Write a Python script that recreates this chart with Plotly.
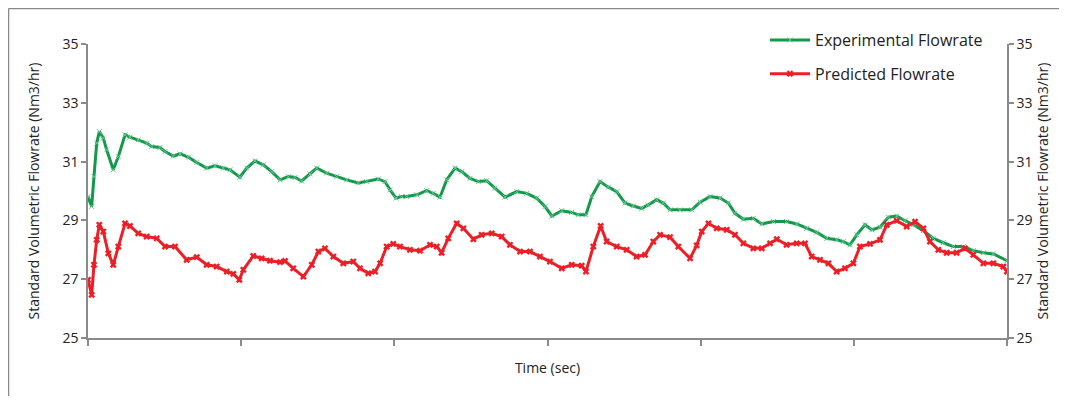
import plotly.graph_objects as go

# Time (sec) (axis has no tick labels, 0..600 span)
exp_time = [0, 2.4, 3.9, 5.7, 7.4, 10.0, 12.2, 16.5, 19.8, 24.2, 27.4, 32.8, 38.3, 41.6, 47.0, 50.3,
            55.7, 60.1, 65.5, 71.0, 77.5, 82.9, 88.3, 92.7, 99.2, 103.6, 109.0, 114.5, 119.9, 125.4,
            130.8, 135.2, 139.5, 145.0, 149.3, 155.8, 162.3, 168.9, 176.5, 182.0, 189.5, 193.9, 197.2,
            201.1, 204.8, 208.1, 214.6, 221.1, 225.4, 229.8, 234.2, 239.6, 244.0, 249.4, 254.8, 260.3,
            265.7, 272.3, 279.9, 286.4, 292.9, 298.4, 302.8, 309.3, 315.8, 320.1, 325.1, 328.9, 334.3,
            339.7, 345.2, 350.6, 356.0, 361.5, 365.8, 371.3, 375.6, 380.0, 386.5, 394.2, 399.6, 406.1,
            412.6, 418.1, 422.4, 427.9, 434.4, 439.9, 447.5, 456.1, 462.7, 469.2, 475.8, 482.3, 488.8,
            493.1, 497.5, 501.9, 507.3, 511.7, 517.1, 522.5, 528.0, 533.4, 538.9, 545.4, 551.9, 558.4,
            565.0, 571.5, 578.0, 584.6, 591.1, 600.0]
exp_flow = [29.81, 29.47, 30.49, 31.63, 32.02, 31.80, 31.40, 30.72, 31.17, 31.91, 31.83, 31.74, 31.63,
            31.51, 31.48, 31.34, 31.19, 31.26, 31.15, 30.97, 30.78, 30.86, 30.78, 30.72, 30.47, 30.78,
            31.02, 30.89, 30.66, 30.38, 30.49, 30.46, 30.34, 30.58, 30.78, 30.61, 30.49, 30.38, 30.27,
            30.32, 30.41, 30.32, 30.04, 29.76, 29.81, 29.81, 29.87, 30.01, 29.92, 29.79, 30.38, 30.78,
            30.66, 30.43, 30.32, 30.35, 30.09, 29.79, 29.98, 29.92, 29.76, 29.47, 29.15, 29.33, 29.27,
            29.19, 29.19, 29.81, 30.32, 30.13, 29.98, 29.59, 29.49, 29.41, 29.53, 29.70, 29.59, 29.36,
            29.36, 29.36, 29.62, 29.81, 29.76, 29.59, 29.24, 29.04, 29.07, 28.88, 28.96, 28.96, 28.88,
            28.73, 28.59, 28.39, 28.34, 28.28, 28.17, 28.51, 28.85, 28.68, 28.77, 29.11, 29.15, 28.99,
            28.85, 28.65, 28.39, 28.24, 28.11, 28.11, 27.97, 27.90, 27.86, 27.63]

pred_time = [0, 2.4, 3.9, 5.7, 7.4, 10.0, 13.3, 16.5, 19.8, 24.2, 27.4, 32.8, 38.3, 44.9, 50.3, 56.8,
             64.4, 71.0, 77.5, 84.0, 90.6, 94.9, 98.8, 101.4, 107.9, 113.4, 118.8, 125.4, 128.6, 134.0,
             140.6, 146.1, 150.4, 154.7, 160.2, 166.7, 173.2, 177.6, 183.0, 187.4, 190.7, 195.0, 199.3,
             203.7, 210.2, 216.8, 223.3, 227.7, 230.9, 235.2, 240.7, 245.1, 251.6, 257.0, 263.6, 270.1,
             275.5, 282.1, 288.6, 295.1, 301.6, 309.3, 315.8, 322.3, 325.1, 329.9, 334.7, 338.6, 345.2,
             351.7, 358.2, 363.7, 369.1, 373.5, 380.0, 385.4, 393.1, 397.4, 400.7, 405.1, 410.5, 417.0,
             422.4, 427.9, 434.4, 439.9, 445.3, 449.7, 456.1, 462.7, 468.1, 472.5, 477.9, 483.4, 488.8,
             494.2, 499.7, 504.0, 510.6, 517.1, 521.5, 528.0, 534.5, 540.0, 545.4, 549.7, 555.2, 560.6,
             567.1, 572.6, 578.0, 584.6, 591.1, 597.6, 600.0]
pred_flow = [26.98, 26.47, 27.49, 28.34, 28.85, 28.62, 27.88, 27.49, 28.11, 28.90, 28.81, 28.56, 28.45,
             28.39, 28.11, 28.11, 27.66, 27.75, 27.49, 27.43, 27.26, 27.18, 26.98, 27.32, 27.79, 27.71,
             27.63, 27.58, 27.62, 27.37, 27.09, 27.49, 27.94, 28.05, 27.77, 27.54, 27.60, 27.37, 27.20,
             27.26, 27.54, 28.11, 28.20, 28.11, 28.00, 27.97, 28.17, 28.11, 27.90, 28.39, 28.90, 28.73,
             28.36, 28.51, 28.56, 28.45, 28.17, 27.94, 27.94, 27.77, 27.60, 27.37, 27.49, 27.46, 27.26,
             28.11, 28.81, 28.28, 28.11, 28.00, 27.77, 27.83, 28.28, 28.51, 28.43, 28.11, 27.71, 28.15,
             28.62, 28.90, 28.73, 28.68, 28.51, 28.22, 28.05, 28.05, 28.22, 28.36, 28.17, 28.22, 28.22,
             27.77, 27.66, 27.54, 27.26, 27.37, 27.54, 28.11, 28.20, 28.34, 28.85, 28.99, 28.79, 28.96,
             28.73, 28.28, 28.00, 27.90, 27.90, 28.05, 27.83, 27.54, 27.54, 27.43, 27.26]

y_ticks = [25, 27, 29, 31, 33, 35]
x_ticks = [0, 100, 200, 300, 400, 500, 600]

GREEN = "#12994a"
RED = "#ed1f26"
AX = "#8a8a8a"
FONT = "Open Sans"

fig = go.Figure()
fig.add_trace(go.Scatter(
    x=exp_time, y=exp_flow, name="Experimental Flowrate", mode="lines+markers",
    line=dict(color=GREEN, width=3),
    marker=dict(symbol="x-thin", size=5, color="#6cc596", line=dict(color="#6cc596", width=1)),
    legendgroup="a"))
fig.add_trace(go.Scatter(
    x=pred_time, y=pred_flow, name="Predicted Flowrate", mode="lines+markers",
    line=dict(color=RED, width=3),
    marker=dict(symbol="x", size=6, color=RED),
    legendgroup="b"))
fig.add_trace(go.Scatter(x=[], y=[], yaxis="y2", showlegend=False, hoverinfo="skip"))

# page body has an 8px margin, so the figure starts at screen (8, 8)
OFF = 8
W, H = 1067 - 2 * OFF, 404 - 2 * OFF
L, R, T, B = 88, 1007, 44, 338  # plot area in screen pixels

def px(p):
    return (p - L) / (R - L)

def py(q):
    return (B - q) / (B - T)

tfont = dict(family=FONT, size=14, color="#222")
yax = dict(range=[25, 35], tickvals=y_ticks, ticks="outside", ticklen=5, tickwidth=1.5,
           tickcolor=AX, showline=True, linecolor=AX, linewidth=1.5, showgrid=False,
           zeroline=False, tickfont=tfont, automargin=False,
           title=dict(text="Standard Volumetric Flowrate (Nm3/hr)", font=tfont, standoff=20))
yax2 = dict(yax, overlaying="y", side="right", anchor="x",
            title=dict(text="Standard Volumetric Flowrate (Nm3/hr)", font=tfont, standoff=6))

border = dict(color=AX, width=1.5)
fig.update_layout(
    width=W, height=H,
    margin=dict(l=L - OFF, r=W - (R - OFF), t=T - OFF, b=H - (B - OFF)),
    paper_bgcolor="white", plot_bgcolor="white",
    xaxis=dict(range=[0, 600], tickvals=x_ticks, ticks="outside", ticklen=6, tickwidth=1.5,
               tickcolor=AX, showticklabels=False, showline=True, linecolor=AX, linewidth=1.5,
               showgrid=False, zeroline=False, automargin=False,
               title=dict(text="Time (sec)", font=tfont, standoff=18)),
    yaxis=yax,
    yaxis2=yax2,
    legend=dict(x=px(765), y=py(23), xanchor="left", yanchor="top",
                font=dict(family=FONT, size=16, color="#222"), tracegroupgap=10,
                bgcolor="rgba(0,0,0,0)", itemwidth=40),
    shapes=[dict(type="line", xref="paper", yref="paper",
                 x0=px(8.5), x1=px(1067), y0=py(8.5), y1=py(8.5), line=border, layer="below"),
            dict(type="line", xref="paper", yref="paper",
                 x0=px(8.5), x1=px(8.5), y0=py(8.5), y1=py(404), line=border, layer="below")],
    showlegend=True,
)

fig.write_html("out.html")
